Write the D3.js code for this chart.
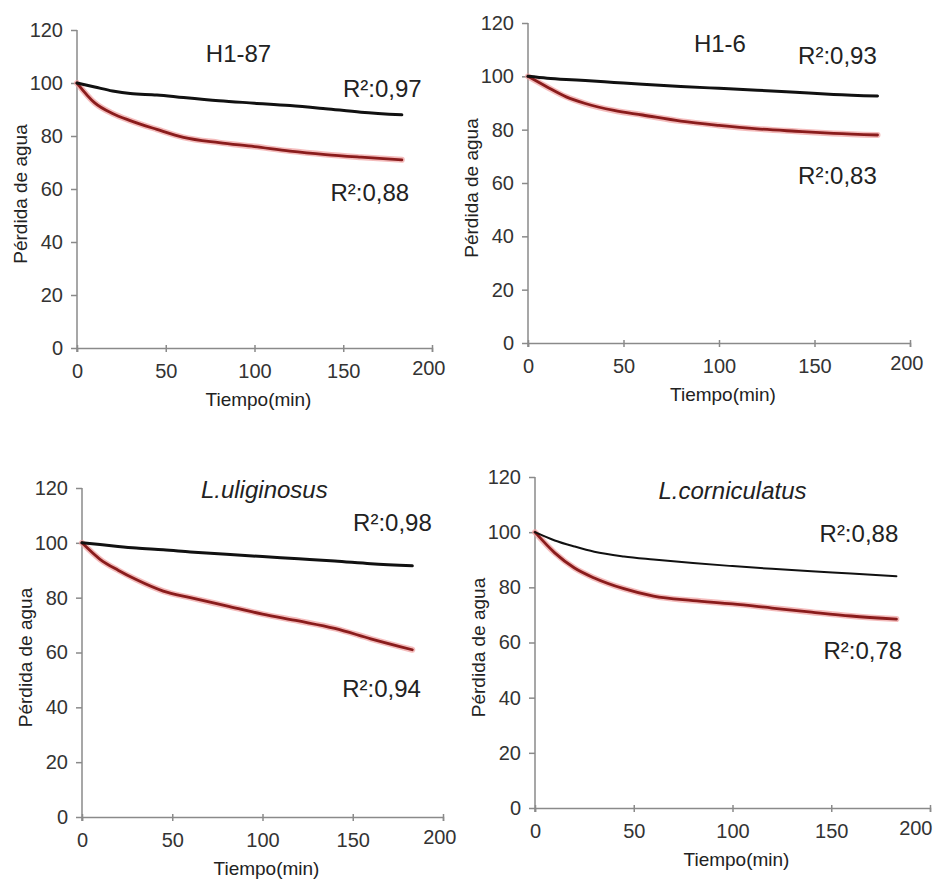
<!DOCTYPE html>
<html>
<head>
<meta charset="utf-8">
<title>Pérdida de agua</title>
<script src="https://d3js.org/d3.v7.min.js"></script>
<style>
    body { margin:0; background:#fff; }
    text { font-family: "Liberation Sans", Arial, sans-serif; fill:#222; }
    .axis path, .axis line { stroke:#8a8a8a; stroke-width:1.5px; }
    .axis text { font-size:20px; fill:#333; font-family: "Liberation Sans", Arial, sans-serif; }
    .title { font-size:24px; }
    .title.it { font-style:italic; }
    .r2 { font-size:24px; }
    .alabel { font-size:19px; }
    .line { fill:none; stroke-linejoin:round; stroke-linecap:round; }
    .black { stroke:#111; }
    .glow { stroke:#f0a0a0; opacity:0.7; }
    .red { stroke:#8a1c1c; }
</style>
</head>
<body>
<div id="chart"></div>
<script>
    var width = 937, height = 879;

    // tiempo (min)
    var tiempo = [0, 10, 20, 30, 45, 60, 80, 100, 120, 140, 160, 183];

    var h187Black = [100, 98.5, 97, 96, 95.5, 94.5, 93.3, 92.4, 91.5, 90.3, 89, 88];
    var h187Red   = [100, 92.5, 88.5, 85.8, 82.5, 79.5, 77.5, 76, 74.3, 73, 72, 71];

    var h16Black  = [100, 99.3, 98.8, 98.4, 97.7, 97, 96.2, 95.5, 94.8, 94, 93.2, 92.6];
    var h16Red    = [100, 96, 92.3, 89.8, 87.2, 85.5, 83.2, 81.6, 80.3, 79.4, 78.6, 78];

    var uligBlack = [100, 99.4, 98.7, 98.1, 97.5, 96.7, 95.8, 95, 94.2, 93.4, 92.4, 91.6];
    var uligRed   = [100, 94, 90, 86.6, 82.4, 80, 77, 74, 71.5, 68.8, 65, 61];

    var cornBlack = [100, 97, 94.8, 92.9, 91.2, 90.1, 88.8, 87.7, 86.7, 85.8, 85, 84];
    var cornRed   = [100, 92.5, 87, 83.4, 79.5, 76.8, 75.2, 74, 72.5, 71, 69.6, 68.5];

    var titles = ["H1-87", "H1-6", "L.uliginosus", "L.corniculatus"];
    var r2Black = ["R²:0,97", "R²:0,93", "R²:0,98", "R²:0,88"];
    var r2Red   = ["R²:0,88", "R²:0,83", "R²:0,94", "R²:0,78"];

    var xTicks = [0, 50, 100, 150, 200];
    var yTicks = [0, 20, 40, 60, 80, 100, 120];

    // layout of each panel (pixel box of the plot area + label spots)
    var panels = [
        {x0:77,  x1:432, y0:348, y1:30,  black:h187Black, red:h187Red, bw:3,   italic:false,
         tpos:[91,111.3],  rb:[172,98.1],  rr:[165,58.5]},
        {x0:528, x1:910, y0:343, y1:23,  black:h16Black,  red:h16Red,  bw:3,   italic:false,
         tpos:[100.5,112.5], rb:[162,108], rr:[162,63]},
        {x0:82,  x1:443, y0:817, y1:488, black:uligBlack, red:uligRed, bw:3,   italic:true,
         tpos:[101,119.3], rb:[172,107.3], rr:[166,47]},
        {x0:535, x1:930, y0:808, y1:477, black:cornBlack, red:cornRed, bw:2,   italic:true,
         tpos:[100,115.2], rb:[164,99.6],  rr:[166,57.2]}
    ];

    var svg = d3.select("#chart").append("svg")
        .attr("width", width).attr("height", height);

    panels.forEach(function(p, i){
        var x = d3.scaleLinear().domain([0,200]).range([p.x0, p.x1]);
        var y = d3.scaleLinear().domain([0,120]).range([p.y0, p.y1]);
        var g = svg.append("g");

        // axes
        g.append("g").attr("class","axis")
            .attr("transform","translate(0,"+p.y0+")")
            .call(d3.axisBottom(x).tickValues(xTicks).tickSizeInner(4).tickSizeOuter(4).tickPadding(12))
            .call(function(a){
                a.selectAll(".tick line").attr("y1",-3);
                // "200" hangs right of its tick, but must stay inside the page
                a.selectAll(".tick text").filter(function(d){ return d==200; })
                    .attr("text-anchor","end")
                    .attr("x", Math.min(13, width - 5 - p.x1))
                    .attr("dy","0.55em");
            });

        g.append("g").attr("class","axis")
            .attr("transform","translate("+p.x0+",0)")
            .call(d3.axisLeft(y).tickValues(yTicks).tickSizeInner(6).tickSizeOuter(0).tickPadding(8))
            .call(function(a){ a.select(".domain").remove(); });
        g.append("line").attr("class","axis")
            .attr("x1",p.x0).attr("x2",p.x0).attr("y1",y(120)).attr("y2",p.y0+4)
            .style("stroke","#8a8a8a").style("stroke-width","1.5px");

        var line = d3.line()
            .curve(d3.curveMonotoneX)
            .x(function(d,j){ return x(tiempo[j]); })
            .y(function(d){ return y(d); });

        g.append("path").attr("class","line glow").attr("d", line(p.red)).attr("stroke-width",6);
        g.append("path").attr("class","line red").attr("d", line(p.red)).attr("stroke-width",2.8);
        g.append("path").attr("class","line black").attr("d", line(p.black)).attr("stroke-width",p.bw);

        // texts
        g.append("text").attr("class","title"+(p.italic?" it":""))
            .attr("x", x(p.tpos[0])).attr("y", y(p.tpos[1]))
            .attr("text-anchor","middle").attr("dominant-baseline","central")
            .text(titles[i]);
        g.append("text").attr("class","r2")
            .attr("x", x(p.rb[0])).attr("y", y(p.rb[1]))
            .attr("text-anchor","middle").attr("dominant-baseline","central")
            .text(r2Black[i]);
        g.append("text").attr("class","r2")
            .attr("x", x(p.rr[0])).attr("y", y(p.rr[1]))
            .attr("text-anchor","middle").attr("dominant-baseline","central")
            .text(r2Red[i]);

        g.append("text").attr("class","alabel")
            .attr("x", (p.x0+p.x1)/2 + 4).attr("y", p.y0 + 51)
            .attr("text-anchor","middle").attr("dominant-baseline","central")
            .text("Tiempo(min)");
        g.append("text").attr("class","alabel")
            .attr("transform","translate("+(p.x0-57)+","+((p.y0+p.y1)/2+5)+") rotate(-90)")
            .attr("text-anchor","middle").attr("dominant-baseline","central")
            .text("Pérdida de agua");
    });
</script>
</body>
</html>
